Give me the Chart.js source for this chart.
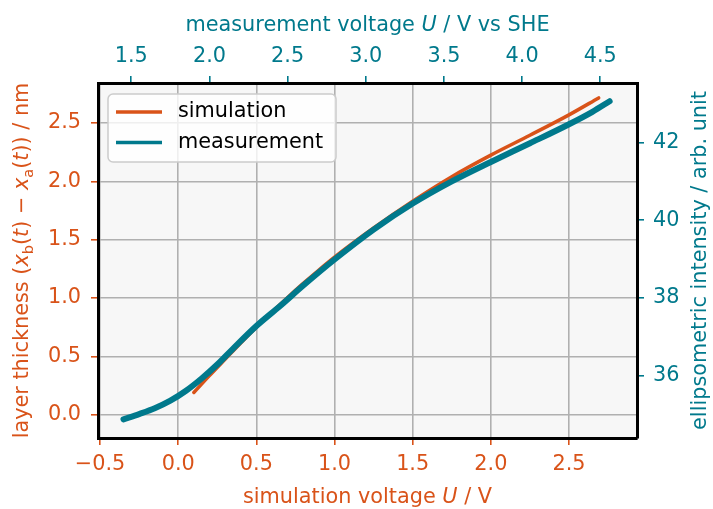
<!DOCTYPE html>
<html>
<head>
<meta charset="utf-8">
<script src="https://cdn.jsdelivr.net/npm/chart.js@4"></script>
<style>
  html, body { margin: 0; padding: 0; background: #fff; }
  canvas { display: block; }
</style>
</head>
<body>
<canvas id="chart" width="713" height="509"></canvas>
<script>
// simulation: layer thickness vs simulation voltage (bottom / left axes)
const simVoltage   = [0.10, 0.20, 0.30, 0.40, 0.50, 0.60, 0.70, 0.80, 0.90, 1.00, 1.25, 1.50, 1.75, 2.00, 2.25, 2.50, 2.69];
const simThickness = [0.19, 0.335, 0.475, 0.615, 0.75, 0.88, 1.005, 1.125, 1.24, 1.35, 1.60, 1.83, 2.04, 2.225, 2.395, 2.57, 2.715];

// measurement: ellipsometric intensity vs measurement voltage (top / right axes)
const measVoltage   = [1.45, 1.55, 1.65, 1.75, 1.85, 1.95, 2.05, 2.15, 2.30, 2.45, 2.60, 2.80, 3.05, 3.30, 3.55, 3.80, 4.05, 4.30, 4.45, 4.56];
const measIntensity = [34.88, 35.015, 35.165, 35.36, 35.615, 35.93, 36.29, 36.695, 37.28, 37.79, 38.32, 38.99, 39.76, 40.43, 41.00, 41.50, 41.98, 42.47, 42.79, 43.06];

const simVoltageTicks   = [-0.5, 0, 0.5, 1, 1.5, 2, 2.5];
const measVoltageTicks  = [1.5, 2, 2.5, 3, 3.5, 4, 4.5];
const thicknessTicks    = [0, 0.5, 1, 1.5, 2, 2.5];
const intensityTicks    = [36, 38, 40, 42];

const ORANGE = '#d95319';
const TEAL = '#00798c';
const FONT = 'DejaVu Sans';
const FS = 20.8;

const fmt1 = v => v.toFixed(1).replace('-', '\u2212');

function fixedTicks(list) {
  return scale => { scale.ticks = list.map(v => ({ value: v })); };
}

function axis(opts) {
  return {
    type: 'linear',
    position: opts.position,
    min: opts.min,
    max: opts.max,
    afterBuildTicks: fixedTicks(opts.ticks),
    afterFit: s => { if (opts.width) s.width = opts.width; if (opts.height) s.height = opts.height; },
    grid: {
      display: true,
      drawOnChartArea: opts.grid,
      color: '#b0b0b0',
      lineWidth: 1.6,
      tickColor: opts.color,
      tickLength: 7,
      tickWidth: 1.6
    },
    border: { display: true, color: '#000', width: 3 },
    ticks: {
      color: opts.color,
      font: { family: FONT, size: FS },
      padding: opts.padding,
      maxRotation: 0,
      autoSkip: false,
      callback: opts.format
    }
  };
}

// runs of text with italic / subscript parts, drawn centred
function drawRich(ctx, runs, x, y, angle, color) {
  ctx.save();
  ctx.translate(x, y);
  ctx.rotate(angle);
  ctx.fillStyle = color;
  ctx.textAlign = 'left';
  ctx.textBaseline = 'alphabetic';
  const fontOf = r => (r.i ? 'italic ' : '') + (r.sub ? FS * 0.7 : FS) + 'px "' + FONT + '"';
  let total = 0;
  runs.forEach(r => { ctx.font = fontOf(r); r.w = ctx.measureText(r.t).width; total += r.w; });
  let cx = -total / 2;
  runs.forEach(r => {
    ctx.font = fontOf(r);
    ctx.fillText(r.t, cx, r.sub ? 4.5 : 0);
    cx += r.w;
  });
  ctx.restore();
}

const decorations = {
  id: 'decorations',
  beforeDraw(chart) {
    const { ctx, chartArea: a } = chart;
    ctx.save();
    ctx.fillStyle = '#f7f7f7';
    ctx.fillRect(a.left, a.top, a.right - a.left, a.bottom - a.top);
    ctx.restore();
  },
  afterDraw(chart) {
    const { ctx, chartArea: a } = chart;
    const midX = (a.left + a.right) / 2;
    const midY = (a.top + a.bottom) / 2;

    drawRich(ctx, [{ t: 'simulation voltage ' }, { t: 'U', i: true }, { t: ' / V' }], midX, 503, 0, ORANGE);
    drawRich(ctx, [{ t: 'measurement voltage ' }, { t: 'U', i: true }, { t: ' / V vs SHE' }], midX, 31, 0, TEAL);
    drawRich(ctx, [
      { t: 'layer thickness (' }, { t: 'x', i: true }, { t: 'b', sub: true }, { t: '(' }, { t: 't', i: true },
      { t: ') \u2212 ' }, { t: 'x', i: true }, { t: 'a', sub: true }, { t: '(' }, { t: 't', i: true }, { t: ')) / nm' }
    ], 28, midY, -Math.PI / 2, ORANGE);
    drawRich(ctx, [{ t: 'ellipsometric intensity / arb. unit' }], 706, midY, -Math.PI / 2, TEAL);

    // legend
    const lx = a.left + 10, ly = a.top + 11, lw = 228, lh = 68;
    ctx.save();
    ctx.beginPath();
    ctx.roundRect(lx, ly, lw, lh, 5);
    ctx.fillStyle = 'rgba(255,255,255,0.8)';
    ctx.fill();
    ctx.strokeStyle = '#cccccc';
    ctx.lineWidth = 1.5;
    ctx.stroke();
    chart.data.datasets.forEach((ds, i) => {
      const yy = ly + 18 + i * 30.5;
      ctx.beginPath();
      ctx.moveTo(lx + 8, yy);
      ctx.lineTo(lx + 54, yy);
      ctx.strokeStyle = ds.borderColor;
      ctx.lineWidth = 3.5;
      ctx.stroke();
      ctx.fillStyle = '#000';
      ctx.font = FS + 'px "' + FONT + '"';
      ctx.textBaseline = 'middle';
      ctx.textAlign = 'left';
      ctx.fillText(ds.label, lx + 70, yy);
    });
    ctx.restore();
  }
};

new Chart(document.getElementById('chart'), {
  type: 'scatter',
  data: {
    datasets: [
      {
        label: 'simulation',
        data: simVoltage.map((v, i) => ({ x: v, y: simThickness[i] })),
        xAxisID: 'x',
        yAxisID: 'y',
        showLine: true,
        borderColor: ORANGE,
        backgroundColor: ORANGE,
        borderWidth: 3.5,
        borderCapStyle: 'round',
        borderJoinStyle: 'round',
        cubicInterpolationMode: 'monotone',
        pointRadius: 0,
        order: 1
      },
      {
        label: 'measurement',
        data: measVoltage.map((v, i) => ({ x: v, y: measIntensity[i] })),
        xAxisID: 'x2',
        yAxisID: 'y2',
        showLine: true,
        borderColor: TEAL,
        backgroundColor: TEAL,
        borderWidth: 6,
        borderCapStyle: 'round',
        borderJoinStyle: 'round',
        cubicInterpolationMode: 'monotone',
        pointRadius: 0,
        order: 0
      }
    ]
  },
  options: {
    responsive: false,
    animation: false,
    devicePixelRatio: 1,
    layout: { padding: 0 },
    plugins: { legend: { display: false }, tooltip: { enabled: false } },
    scales: {
      x:  axis({ position: 'bottom', min: -0.513, max: 2.935, ticks: simVoltageTicks, color: ORANGE, grid: true, height: 71, padding: 7, format: fmt1 }),
      x2: axis({ position: 'top', min: 1.287, max: 4.735, ticks: measVoltageTicks, color: TEAL, grid: false, height: 83, padding: 7, format: fmt1 }),
      y:  axis({ position: 'left', min: -0.2, max: 2.843, ticks: thicknessTicks, color: ORANGE, grid: true, width: 98, padding: 10, format: fmt1 }),
      y2: axis({ position: 'right', min: 34.4, max: 43.53, ticks: intensityTicks, color: TEAL, grid: false, width: 76, padding: 9, format: v => String(v) })
    }
  },
  plugins: [decorations]
});
</script>
</body>
</html>
